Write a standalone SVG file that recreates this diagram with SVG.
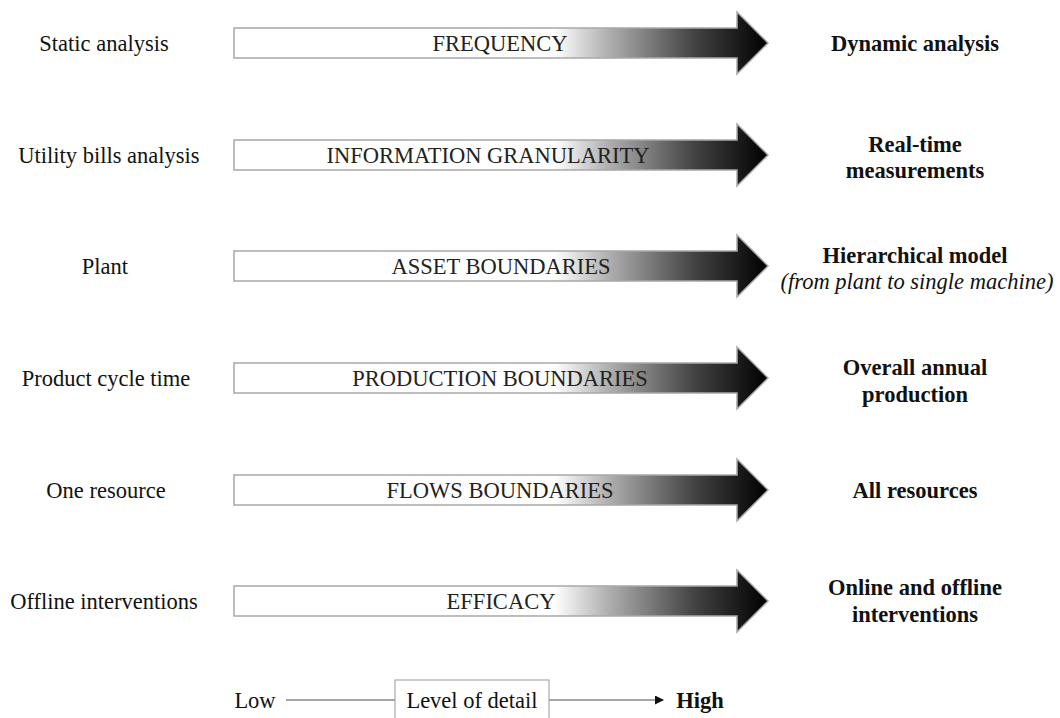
<svg xmlns="http://www.w3.org/2000/svg" width="1060" height="718" viewBox="0 0 1060 718">
<style>
.l{font-family:"Liberation Serif","Times New Roman",serif;font-size:22.5px;fill:#111;text-anchor:middle}
.r{font-family:"Liberation Serif","Times New Roman",serif;font-size:22.5px;font-weight:bold;fill:#111;text-anchor:middle}
.i{font-family:"Liberation Serif","Times New Roman",serif;font-size:22.5px;font-style:italic;fill:#111;text-anchor:middle}
.t{font-family:"Liberation Serif","Times New Roman",serif;font-size:22.5px;fill:#222;text-anchor:middle}
.arr{fill:url(#g);stroke:#a8a8a8;stroke-width:1.5}
.ln{stroke:#888;stroke-width:1.5;fill:none}
</style>
<defs>
<linearGradient id="g" x1="0" y1="0" x2="1" y2="0">
<stop offset="0" stop-color="#fff"/>
<stop offset="0.6" stop-color="#fff"/>
<stop offset="0.7" stop-color="#b0b0b0"/>
<stop offset="0.86" stop-color="#444"/>
<stop offset="1" stop-color="#000"/>
</linearGradient>
<path id="a" d="M234,-15 H737 V-31 L768,0 L737,31 V15 H234 Z"/>
<marker id="m" markerWidth="9" markerHeight="9" refX="8" refY="4.5" orient="auto" markerUnits="userSpaceOnUse">
<path d="M0,0 L9,4.5 L0,9 Z" fill="#111"/>
</marker>
</defs>
<g id="row1" transform="translate(0,43)">
<use href="#a" class="arr"/>
<text class="t" x="500" y="8">FREQUENCY</text>
<text class="l" x="104" y="8">Static analysis</text>
<text class="r" x="915" y="8">Dynamic analysis</text>
</g>
<g id="row2" transform="translate(0,155)">
<use href="#a" class="arr"/>
<text class="t" x="488" y="8">INFORMATION GRANULARITY</text>
<text class="l" x="109" y="8">Utility bills analysis</text>
<text class="r" x="915" y="-3">Real-time</text>
<text class="r" x="915" y="23">measurements</text>
</g>
<g id="row3" transform="translate(0,266)">
<use href="#a" class="arr"/>
<text class="t" x="501" y="8">ASSET BOUNDARIES</text>
<text class="l" x="105" y="8">Plant</text>
<text class="r" x="915" y="-3">Hierarchical model</text>
<text class="i" x="917" y="23">(from plant to single machine)</text>
</g>
<g id="row4" transform="translate(0,378)">
<use href="#a" class="arr"/>
<text class="t" x="500" y="8">PRODUCTION BOUNDARIES</text>
<text class="l" x="106" y="8">Product cycle time</text>
<text class="r" x="915" y="-3">Overall annual</text>
<text class="r" x="915" y="24">production</text>
</g>
<g id="row5" transform="translate(0,490)">
<use href="#a" class="arr"/>
<text class="t" x="500" y="8">FLOWS BOUNDARIES</text>
<text class="l" x="106" y="8">One resource</text>
<text class="r" x="915" y="8">All resources</text>
</g>
<g id="row6" transform="translate(0,601)">
<use href="#a" class="arr"/>
<text class="t" x="501" y="8">EFFICACY</text>
<text class="l" x="104" y="8">Offline interventions</text>
<text class="r" x="915" y="-6">Online and offline</text>
<text class="r" x="915" y="21">interventions</text>
</g>
<g id="connectors">
<line class="ln" x1="286" y1="700" x2="395" y2="700"/>
<line class="ln" x1="549" y1="700" x2="663" y2="700" marker-end="url(#m)"/>
</g>
<g id="legend">
<text class="l" x="255" y="708">Low</text>
<rect x="395" y="680" width="154" height="44" fill="#fff" stroke="#aaa" stroke-width="1.2"/>
<text class="l" x="472" y="708">Level of detail</text>
<text class="r" x="700" y="708">High</text>
</g>
</svg>
